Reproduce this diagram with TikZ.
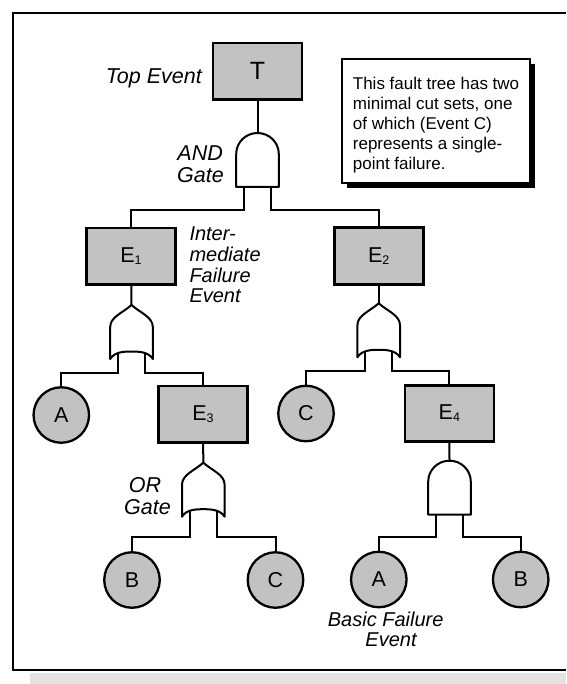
\documentclass[tikz,border=0pt]{standalone}
\usepackage{fontspec}
\setmainfont{Liberation Sans}
\definecolor{boxgray}{gray}{0.76}
\tikzset{
  gateline/.style={line width=2pt, line join=round},
  legline/.style={line width=2pt, line cap=rect},
  pics/andgate/.style={code={
    \draw[legline] (-13.5,50) -- (-13.5,#1) coordinate (-lb);
    \draw[legline] (13.5,50) -- (13.5,#1) coordinate (-rb);
    \draw[gateline, fill=white] (-21.3,54) -- (-21.3,21)
      .. controls (-21.3,9.4) and (-11.8,0) .. (0,0)
      .. controls (11.8,0) and (21.3,9.4) .. (21.3,21) -- (21.3,54) -- cycle;
    \coordinate (-in) at (0,0);
  }},
  pics/orgate/.style={code={
    \draw[legline] (-13.5,47) -- (-13.5,#1) coordinate (-lb);
    \draw[legline] (13.5,47) -- (13.5,#1) coordinate (-rb);
    \draw[gateline, fill=white] (0,0)
      .. controls (9,8) and (21.3,12) .. (21.3,22) -- (21.3,54)
      .. controls (17,47) and (8,46.5) .. (0,46.5)
      .. controls (-8,46.5) and (-17,47) .. (-21.3,54) -- (-21.3,22)
      .. controls (-21.3,12) and (-9,8) .. (0,0) -- cycle;
    \coordinate (-in) at (0,0);
  }},
}
\begin{document}
\begin{tikzpicture}[x=1pt,y=-1pt,
  conn/.style={line width=2pt, line cap=rect},
  evbox/.style={draw, line width=2.6pt, fill=boxgray, minimum width=89pt, minimum height=56.5pt, inner sep=0pt, outer sep=0pt, font=\fontsize{21.5}{21.5}\selectfont},
  basic/.style={circle, draw, line width=2.3pt, fill=boxgray, minimum size=55.5pt, inner sep=0pt, outer sep=0pt, font=\fontsize{21.5}{21.5}\selectfont},
  lbl/.style={inner sep=0pt, font=\itshape\fontsize{21.5}{21.5}\selectfont},
  lblsm/.style={inner sep=0pt, font=\itshape\fontsize{20}{20}\selectfont},
  notetext/.style={inner sep=0pt, anchor=base west, font=\fontsize{17}{20}\selectfont},
]
\useasboundingbox (0,0) rectangle (566,684);
\fill[white] (0,0) rectangle (566,684);
% scan band and frame
\fill[black!11] (30,673) rectangle (566,684);
\draw[line width=2.2pt] (566,12.7) -- (12.7,12.7) -- (12.7,670) -- (566,670);

% note box with shadow
\fill[black] (347,64.5) rectangle (535.3,188.3);
\node[draw, fill=white, line width=1.6pt, minimum width=188pt, minimum height=124pt, anchor=north west, inner sep=0pt, outer sep=0pt] (notebox) at (342,59.3) {};
\node[notetext] (n1) at (352.7,89.3) {This fault tree has two};
\node[notetext] (n2) at (352.7,109.3) {minimal cut sets, one};
\node[notetext] (n3) at (352.7,129.3) {of which (Event C)};
\node[notetext] (n4) at (352.7,149.3) {represents a single-};
\node[notetext] (n5) at (352.7,169.3) {point failure.};

% events
\node[evbox, font=\fontsize{25}{25}\selectfont] (T) at (257.5,71.3) {T};
\node[evbox] (E1) at (131,256.3) {E\raisebox{-2pt}{\fontsize{12.5}{12.5}\selectfont 1}};
\node[evbox] (E2) at (378.7,256) {E\raisebox{-2pt}{\fontsize{12.5}{12.5}\selectfont 2}};
\node[evbox] (E3) at (203,414.3) {E\raisebox{-2pt}{\fontsize{12.5}{12.5}\selectfont 3}};
\node[evbox] (E4) at (449.3,413.5) {E\raisebox{-2pt}{\fontsize{12.5}{12.5}\selectfont 4}};

\node[basic] (A1) at (61.3,415) {A};
\node[basic] (C1) at (306,413.5) {C};
\node[basic] (B1) at (132,580) {B};
\node[basic] (C2) at (275.5,580) {C};
\node[basic] (A2) at (378.8,579.5) {A};
\node[basic] (B2) at (520.7,579.5) {B};

% gates
\pic (g0) at (257.5,133) {andgate=77};
\pic (g1) at (131.5,305) {orgate=67.5};
\pic (g2) at (378.7,303.3) {orgate=67.7};
\pic (g3) at (203.3,462.7) {orgate=74.6};
\pic (g4) at (449.5,460.7) {andgate=76};

% connectors
\draw[conn] (T) -- (g0-in);
\draw[conn] (g0-lb) -| (E1);
\draw[conn] (g0-rb) -| (E2);
\draw[conn] (E1) -- (g1-in);
\draw[conn] (g1-lb) -| (A1);
\draw[conn] (g1-rb) -| (E3);
\draw[conn] (E2) -- (g2-in);
\draw[conn] (g2-lb) -| (C1);
\draw[conn] (g2-rb) -| (E4);
\draw[conn] (E3) -- (g3-in);
\draw[conn] (g3-lb) -| (B1);
\draw[conn] (g3-rb) -| (C2);
\draw[conn] (E4) -- (g4-in);
\draw[conn] (g4-lb) -| (A2);
\draw[conn] (g4-rb) -| (B2);

% labels
\node[lbl, anchor=base east] (ltop) at (202,83.3) {Top Event};
\node[lbl, anchor=base east] (land) at (223,160.5) {AND};
\node[lbl, anchor=base east] (landg) at (224,182.5) {Gate};
\node[lbl, anchor=base] (lor) at (145,492.7) {OR};
\node[lbl, anchor=base] (lorg) at (147.5,514) {Gate};
\node[lblsm, anchor=base west] (li1) at (189.3,241) {Inter-};
\node[lblsm, anchor=base west] (li2) at (189.3,261.5) {mediate};
\node[lblsm, anchor=base west] (li3) at (189.3,282) {Failure};
\node[lblsm, anchor=base west] (li4) at (189.3,302) {Event};
\node[lblsm, anchor=base] (lb1) at (385.7,626.7) {Basic Failure};
\node[lblsm, anchor=base] (lb2) at (391,646.7) {Event};
\end{tikzpicture}
\end{document}
